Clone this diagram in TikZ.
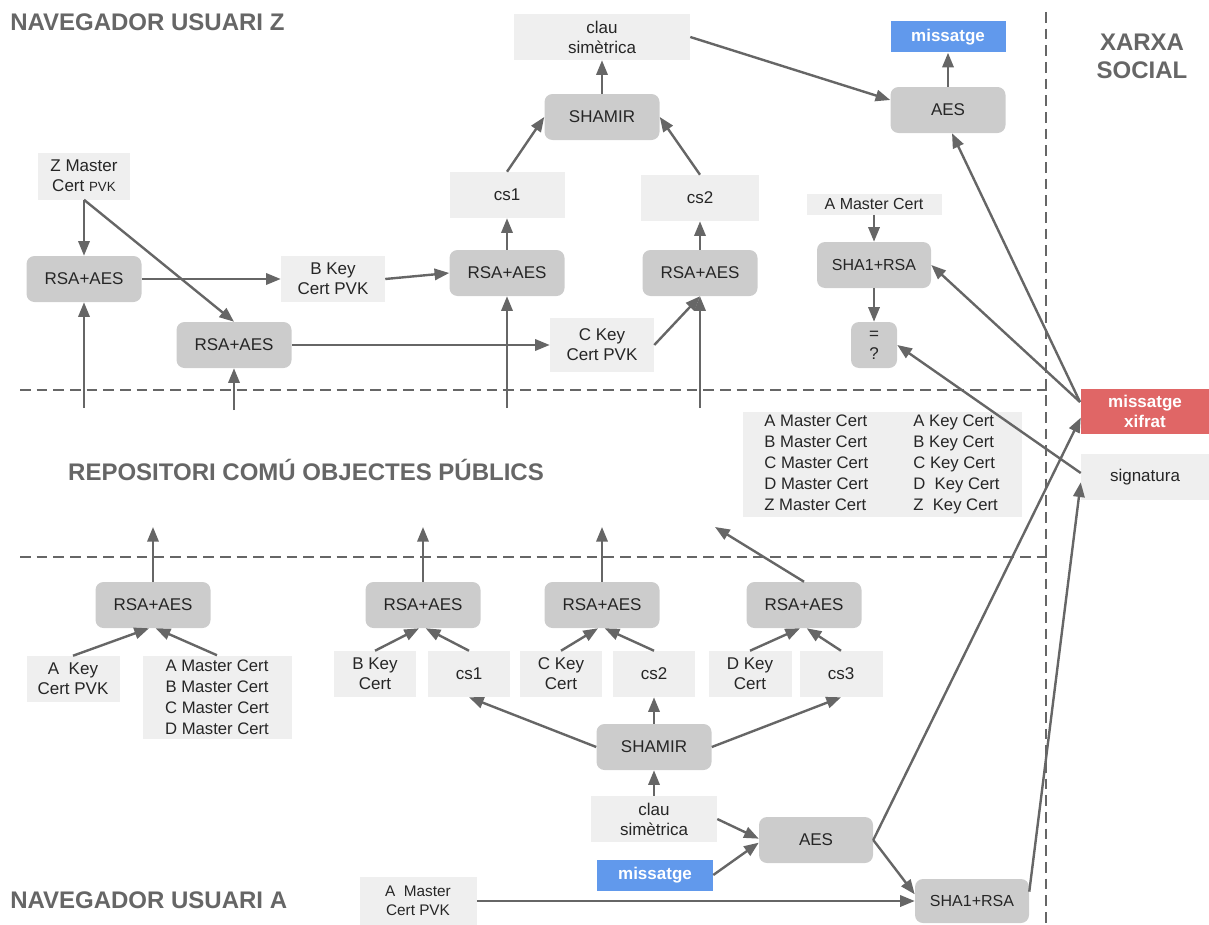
\documentclass[tikz,border=0pt]{standalone}
\usepackage{fontspec}
\setmainfont{Liberation Sans}
\usetikzlibrary{arrows.meta}
\definecolor{procfill}{HTML}{CCCCCC}
\definecolor{datafill}{HTML}{EFEFEF}
\definecolor{inkgray}{HTML}{666666}
\definecolor{txt}{HTML}{262626}
\definecolor{msgblue}{HTML}{6199EC}
\definecolor{msgred}{HTML}{E06666}
\newlength\pxu \setlength\pxu{0.75pt}
\tikzset{
  box/.style={inner sep=0pt, align=center, text=txt,
    font=\fontsize{12.75pt}{15pt}\selectfont},
  proc/.style={box, fill=procfill, rounded corners=6pt,
    minimum width=115\pxu, minimum height=46\pxu},
  data/.style={box, fill=datafill, minimum width=82\pxu, minimum height=46\pxu},
  msgbox/.style={box, text=white, font=\fontsize{12.75pt}{15pt}\selectfont\bfseries,
    minimum width=116\pxu, minimum height=31\pxu},
  flow/.style={draw=inkgray, line width=1.8pt, -{Triangle[length=11pt,width=8.5pt]}},
  divider/.style={draw=inkgray, line width=1.8pt, dash pattern=on 8pt off 4.5pt},
  title/.style={text=inkgray, inner sep=0pt, align=center,
    font=\fontsize{18pt}{21pt}\selectfont\bfseries},
}
\begin{document}
\begin{tikzpicture}[x=0.75pt, y=-0.75pt]
\useasboundingbox (0,0) rectangle (1209,924);

% zone dividers
\draw[divider] (20,390) -- (1050,390);
\draw[divider] (20,557) -- (1050,557);
\draw[divider] (1046,12) -- (1046,924);

% zone titles
\node[title, anchor=west] (tz) at (10,22) {NAVEGADOR USUARI Z};
\node[title] (tx) at (1142,56) {XARXA\\SOCIAL};
\node[title] (tr) at (306,470) {REPOSITORI COMÚ OBJECTES PÚBLICS};
\node[title, anchor=west] (ta) at (10,900) {NAVEGADOR USUARI A};

% ---------- user Z browser ----------
\node[data, minimum width=92\pxu, minimum height=47\pxu] (zmc) at (84,176)
  {Z Master\\Cert {\fontsize{10pt}{12pt}\selectfont PVK}};
\node[proc] (r1) at (84,279) {RSA+AES};
\node[proc] (r2) at (234,345) {RSA+AES};
\node[data, minimum width=104\pxu] (bkey) at (333,279) {B Key\\Cert PVK};
\node[proc] (r3) at (507,273) {RSA+AES};
\node[data, minimum width=115\pxu] (cs1t) at (507,195) {cs1};
\node[proc] (r4) at (700,273) {RSA+AES};
\node[data, minimum width=118\pxu] (cs2t) at (700,198) {cs2};
\node[data, minimum width=104\pxu, minimum height=54\pxu] (ckey) at (602,345) {C Key\\Cert PVK};
\node[proc] (shat) at (602,117) {SHAMIR};
\node[data, minimum width=176\pxu] (claut) at (602,37) {clau\\simètrica};
\node[proc] (aest) at (948,110) {AES};
\node[msgbox, fill=msgblue, minimum width=115\pxu] (msgt) at (948,37) {missatge};
\node[data, minimum width=135\pxu, minimum height=21\pxu,
  font=\fontsize{12pt}{14pt}\selectfont] (amc) at (874,204) {A Master Cert};
\node[proc, minimum width=114\pxu, font=\fontsize{12pt}{14pt}\selectfont] (shar) at (874,265) {SHA1+RSA};
\node[proc, minimum width=46\pxu] (eq) at (874,345) {=\\?};

% ---------- social network ----------
\node[msgbox, fill=msgred, minimum width=128\pxu, minimum height=45\pxu] (xif) at (1145,411) {missatge\\xifrat};
\node[data, minimum width=128\pxu] (sig) at (1145,477) {signatura};

% ---------- shared repository ----------
\node[data, minimum width=279\pxu, minimum height=105\pxu,
  font=\fontsize{12.5pt}{15.75pt}\selectfont] (certs) at (882,464)
  {\begin{tabular}{@{}p{111.75pt}@{}l@{}}
   A Master Cert & A Key Cert\\
   B Master Cert & B Key Cert\\
   C Master Cert & C Key Cert\\
   D Master Cert & D\ \ Key Cert\\
   Z Master Cert & Z\ \ Key Cert
   \end{tabular}};

% ---------- user A browser ----------
\node[proc] (ra) at (153,605) {RSA+AES};
\node[data, minimum width=93\pxu] (akey) at (73,679) {A\ \ Key\\Cert PVK};
\node[data, minimum width=149\pxu, minimum height=83\pxu,
  font=\fontsize{12.5pt}{15.75pt}\selectfont] (mlist) at (217,697)
  {A Master Cert\\B Master Cert\\C Master Cert\\D Master Cert};
\node[proc] (rb) at (423,605) {RSA+AES};
\node[data] (bk2) at (375,674) {B Key\\Cert};
\node[data] (cs1b) at (469,674) {cs1};
\node[proc] (rc) at (602,605) {RSA+AES};
\node[data] (ck2) at (561,674) {C Key\\Cert};
\node[data] (cs2b) at (654,674) {cs2};
\node[proc] (rd) at (804,605) {RSA+AES};
\node[data, minimum width=83\pxu] (dk2) at (750,674) {D Key\\Cert};
\node[data, minimum width=83\pxu] (cs3b) at (841,674) {cs3};
\node[proc] (shab) at (654,747) {SHAMIR};
\node[data, minimum width=126\pxu] (claub) at (654,819) {clau\\simètrica};
\node[msgbox, fill=msgblue] (msgb) at (655,875) {missatge};
\node[proc, minimum width=114\pxu] (aesb) at (816,840) {AES};
\node[data, minimum width=117\pxu, minimum height=48\pxu,
  font=\fontsize{11.5pt}{14pt}\selectfont] (amb) at (418,901) {A\ \ Master\\Cert PVK};
\node[proc, minimum width=114\pxu, minimum height=44\pxu,
  font=\fontsize{12pt}{14pt}\selectfont] (shabr) at (972,901) {SHA1+RSA};

% free ends at the repository
\coordinate (pz1) at (84,408);
\coordinate (pz2) at (234,410);
\coordinate (pz3) at (507,408);
\coordinate (pz4) at (700,408);
\coordinate (pa1) at (153,527);
\coordinate (pa2) at (423,527);
\coordinate (pa3) at (602,527);
\coordinate (pa4) at (715,527);
\coordinate (xin) at (1080,402);

% connectors, user Z
\draw[flow] (zmc.south) -- (r1.north);
\draw[flow] (zmc.south) -- (r2.north);
\draw[flow] (pz1) -- (r1.south);
\draw[flow] (pz2) -- (r2.south);
\draw[flow] (pz3) -- (r3.south);
\draw[flow] (pz4) -- (r4.south);
\draw[flow] (r1.east) -- (bkey.west);
\draw[flow] (bkey.east) -- (r3.west);
\draw[flow] (r2.east) -- (ckey.west);
\draw[flow] (ckey.east) -- (r4.south);
\draw[flow] (r3.north) -- (cs1t.south);
\draw[flow] (r4.north) -- (cs2t.south);
\draw[flow] (cs1t.north) -- (shat.west);
\draw[flow] (cs2t.north) -- (shat.east);
\draw[flow] (shat.north) -- (claut.south);
\draw[flow] (claut.east) -- ([yshift=7.5pt]aest.west);
\draw[flow] (aest.north) -- (msgt.south);
\draw[flow] (amc.south) -- (shar.north);
\draw[flow] (shar.south) -- (eq.north);
\draw[flow] (xin) -- ([xshift=3pt]aest.south);
\draw[flow] (xin) -- (shar.east);
\draw[flow] ([yshift=3pt]sig.west) -- (eq.east);

% connectors, user A
\draw[flow] (ra.north) -- (pa1);
\draw[flow] (rb.north) -- (pa2);
\draw[flow] (rc.north) -- (pa3);
\draw[flow] (rd.north) -- (pa4);
\draw[flow] (akey.north) -- ([xshift=-3pt]ra.south);
\draw[flow] (mlist.north) -- ([xshift=2pt]ra.south);
\draw[flow] (bk2.north) -- ([xshift=-3pt]rb.south);
\draw[flow] (cs1b.north) -- ([xshift=2pt]rb.south);
\draw[flow] (ck2.north) -- ([xshift=-3pt]rc.south);
\draw[flow] (cs2b.north) -- ([xshift=2pt]rc.south);
\draw[flow] (dk2.north) -- ([xshift=-3pt]rd.south);
\draw[flow] (cs3b.north) -- ([xshift=2pt]rd.south);
\draw[flow] (shab.west) -- (cs1b.south);
\draw[flow] (shab.north) -- (cs2b.south);
\draw[flow] (shab.east) -- (cs3b.south);
\draw[flow] (claub.north) -- (shab.south);
\draw[flow] (claub.east) -- ([yshift=1pt]aesb.west);
\draw[flow] (msgb.east) -- ([yshift=-2pt]aesb.west);
\draw[flow] (amb.east) -- (shabr.west);
\draw[flow] (aesb.east) -- ([yshift=5pt]shabr.west);
\draw[flow] (aesb.east) -- ([yshift=-5pt]xif.west);
\draw[flow] ([yshift=7pt]shabr.east) -- ([yshift=-4pt]sig.west);
\end{tikzpicture}
\end{document}
